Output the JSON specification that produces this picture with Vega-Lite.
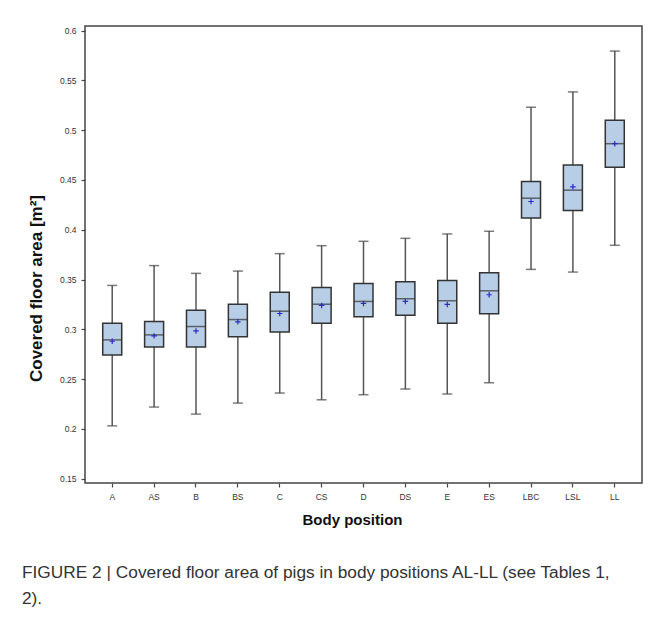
{
  "$schema": "https://vega.github.io/schema/vega-lite/v6.json",
  "width": 557,
  "height": 457,
  "autosize": {"type": "none"},
  "padding": {"left": 85, "top": 26, "right": 10, "bottom": 134},
  "background": "white",
  "config": {
    "font": "Liberation Sans",
    "view": {"stroke": "#444", "strokeWidth": 1.5},
    "axis": {"grid": false, "domain": false, "tickColor": "#444", "tickWidth": 1.2, "tickSize": 4, "labelColor": "#333", "labelFontSize": 8.5, "titleColor": "#111", "titleFontSize": 15, "titleFontWeight": "bold", "labelFont": "Liberation Sans", "titleFont": "Liberation Sans"}
  },
  "title": {
    "text": ["FIGURE 2 | Covered floor area of pigs in body positions AL-LL (see Tables 1,", "2)."],
    "orient": "bottom",
    "anchor": "start",
    "frame": "group",
    "dx": -63,
    "offset": 36,
    "fontSize": 17.3,
    "fontWeight": "normal",
    "color": "#333",
    "lineHeight": 26,
    "font": "Liberation Sans"
  },
  "data": {
    "values": [
      {"pos": "A", "lo": 0.203, "q1": 0.2743, "med": 0.2894, "q3": 0.3061, "hi": 0.3441, "mean": 0.288},
      {"pos": "AS", "lo": 0.2219, "q1": 0.2823, "med": 0.2944, "q3": 0.3078, "hi": 0.364, "mean": 0.2934},
      {"pos": "B", "lo": 0.2148, "q1": 0.2823, "med": 0.3028, "q3": 0.3192, "hi": 0.3562, "mean": 0.2984},
      {"pos": "BS", "lo": 0.2259, "q1": 0.2924, "med": 0.3098, "q3": 0.3252, "hi": 0.3585, "mean": 0.3075},
      {"pos": "C", "lo": 0.236, "q1": 0.2974, "med": 0.3182, "q3": 0.3373, "hi": 0.376, "mean": 0.3159},
      {"pos": "CS", "lo": 0.2292, "q1": 0.3061, "med": 0.3252, "q3": 0.342, "hi": 0.384, "mean": 0.324},
      {"pos": "D", "lo": 0.2343, "q1": 0.3125, "med": 0.328, "q3": 0.3461, "hi": 0.3884, "mean": 0.326},
      {"pos": "DS", "lo": 0.24, "q1": 0.3142, "med": 0.3307, "q3": 0.3478, "hi": 0.3914, "mean": 0.328},
      {"pos": "E", "lo": 0.235, "q1": 0.3061, "med": 0.3287, "q3": 0.3491, "hi": 0.3958, "mean": 0.325},
      {"pos": "ES", "lo": 0.2463, "q1": 0.3156, "med": 0.3387, "q3": 0.3569, "hi": 0.3985, "mean": 0.3347},
      {"pos": "LBC", "lo": 0.3602, "q1": 0.4119, "med": 0.4317, "q3": 0.4486, "hi": 0.5231, "mean": 0.4284},
      {"pos": "LSL", "lo": 0.3575, "q1": 0.4193, "med": 0.4398, "q3": 0.465, "hi": 0.5385, "mean": 0.4431},
      {"pos": "LL", "lo": 0.3844, "q1": 0.4627, "med": 0.4865, "q3": 0.51, "hi": 0.5795, "mean": 0.4865}
    ]
  },
  "encoding": {
    "x": {
      "field": "pos",
      "type": "nominal",
      "sort": null,
      "scale": {"type": "band", "paddingInner": 0, "paddingOuter": 0.15},
      "axis": {"title": "Body position", "labelAngle": 0, "labelPadding": 5, "titlePadding": 12, "titleX": 267}
    }
  },
  "layer": [
    {
      "mark": {"type": "rule", "color": "#555", "strokeWidth": 1.5},
      "encoding": {
        "y": {
          "field": "lo",
          "type": "quantitative",
          "scale": {"domain": [0.1456, 0.6047], "nice": false, "zero": false},
          "axis": {"title": "Covered floor area [m²]", "values": [0.15, 0.2, 0.25, 0.3, 0.35, 0.4, 0.45, 0.5, 0.55, 0.6], "format": "~g", "labelPadding": 5, "titlePadding": 14, "titleFontSize": 17, "titleY": 262}
        },
        "y2": {"field": "hi"}
      }
    },
    {
      "mark": {"type": "tick", "color": "#444", "thickness": 1.5, "size": 10},
      "encoding": {"y": {"field": "lo", "type": "quantitative"}}
    },
    {
      "mark": {"type": "tick", "color": "#444", "thickness": 1.5, "size": 10},
      "encoding": {"y": {"field": "hi", "type": "quantitative"}}
    },
    {
      "mark": {"type": "bar", "size": 19, "fill": "#b8cde6", "stroke": "#333", "strokeWidth": 1.5},
      "encoding": {"y": {"field": "q1", "type": "quantitative"}, "y2": {"field": "q3"}}
    },
    {
      "mark": {"type": "tick", "color": "#333", "thickness": 1.5, "size": 19},
      "encoding": {"y": {"field": "med", "type": "quantitative"}}
    },
    {
      "mark": {"type": "point", "shape": "M-1,0L1,0M0,-1L0,1", "filled": false, "stroke": "#2b2bc8", "strokeWidth": 1.2, "size": 30, "opacity": 1},
      "encoding": {"y": {"field": "mean", "type": "quantitative"}}
    }
  ]
}
